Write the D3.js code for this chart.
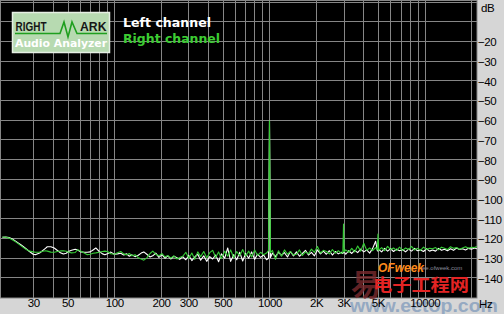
<!DOCTYPE html>
<html>
<head>
<meta charset="utf-8">
<script src="https://cdn.jsdelivr.net/npm/d3@7"></script>
<style>
  body { margin: 0; background: #d6d6d6; }
  svg { display: block; }
</style>
</head>
<body>
<div id="chart"></div>
<script>
// Spectrum bins (Hz)
const freqs = [
  19, 20, 21, 22, 23, 24, 25, 26, 27, 28,
  30, 31, 33, 34, 36, 37, 39, 41, 43, 45,
  47, 49, 51, 53, 56, 58, 61, 64, 67, 70,
  73, 76, 80, 84, 87, 91, 95, 100, 105, 110,
  115, 120, 125, 130, 136, 142, 149, 155, 162, 170,
  177, 185, 194, 203, 212, 221, 231, 242, 253, 264,
  276, 289, 302, 316, 330, 345, 360, 377, 394, 412,
  430, 450, 470, 490, 515, 538, 562, 588, 615, 643,
  672, 702, 734, 767, 802, 838, 876, 916, 957, 985,
  1000, 1015, 1045, 1093, 1143, 1195, 1249, 1306, 1365, 1427,
  1492, 1560, 1630, 1705, 1782, 1863, 1948, 2036, 2129, 2225,
  2326, 2432, 2542, 2658, 2778, 2904, 2970, 3000, 3030, 3100,
  3240, 3390, 3540, 3700, 3870, 4050, 4230, 4420, 4620, 4830,
  4950, 5000, 5050, 5280, 5520, 5770, 6030, 6300, 6590, 6890,
  7200, 7530, 7870, 8230, 8600, 8990, 9400, 9830, 10280, 10750,
  11240, 11750, 12280, 12840, 13420, 14030, 14670, 15340, 16040, 16770,
  17530, 18330, 19160, 20030, 20940, 21700
];

// Left channel level (dB)
const left_db = [
  -119.2, -119.0, -119.3, -120.0, -121.0, -122.0, -123.0, -124.0, -125.0, -126.0,
  -127.8, -128.0, -127.2, -126.4, -124.8, -124.0, -124.0, -124.6, -125.9, -127.0,
  -127.7, -127.3, -126.3, -125.8, -125.3, -125.6, -126.6, -126.8, -126.8, -126.6,
  -125.6, -124.6, -126.4, -127.6, -128.0, -127.4, -126.7, -127.8, -127.6, -127.3,
  -128.2, -127.6, -128.8, -128.1, -129.0, -128.4, -127.2, -126.6, -127.8, -129.2,
  -128.6, -127.2, -129.4, -128.0, -129.8, -128.6, -130.2, -128.8, -129.6, -130.4,
  -129.0, -130.6, -128.4, -131.0, -129.2, -127.8, -130.8, -128.6, -131.4, -129.0,
  -130.2, -128.2, -131.6, -127.6, -129.8, -124.6, -131.4, -128.0, -130.6, -126.8,
  -131.2, -127.4, -129.8, -126.6, -130.4, -127.8, -129.4, -128.2, -130.6, -129.8,
  -60.0, -129.4, -127.2, -129.0, -126.8, -128.4, -127.0, -129.2, -126.4, -128.6,
  -126.6, -128.8, -127.4, -125.8, -128.2, -126.8, -128.6, -125.6, -127.6, -126.2,
  -127.8, -126.0, -128.2, -126.4, -127.6, -126.8, -127.4, -127.0, -126.6, -127.8,
  -126.0, -127.4, -125.8, -127.0, -125.2, -126.6, -125.6, -127.2, -124.8, -121.2,
  -125.8, -126.2, -125.4, -126.6, -124.8, -126.2, -125.0, -126.4, -125.2, -126.0,
  -125.4, -126.6, -125.2, -126.2, -124.8, -126.0, -125.6, -126.4, -125.0, -126.2,
  -125.6, -126.2, -124.8, -125.8, -125.2, -126.0, -125.0, -125.8, -124.6, -125.4,
  -125.0, -125.6, -124.8, -125.2, -124.6, -125.0
];

// Right channel level (dB)
const right_db = [
  -119.0, -119.2, -119.6, -120.4, -121.4, -122.4, -123.4, -124.4, -125.3, -126.0,
  -126.6, -126.8, -126.7, -126.4, -126.0, -126.2, -126.7, -126.8, -126.4, -126.1,
  -126.0, -126.3, -126.8, -127.1, -126.9, -125.5, -126.3, -127.2, -128.0, -127.8,
  -127.3, -127.1, -126.8, -126.4, -126.2, -126.5, -127.5, -127.8, -127.0, -126.4,
  -127.6, -128.1, -127.4, -128.6, -128.0, -129.4, -130.2, -130.8, -129.6, -127.4,
  -126.2, -127.8, -128.6, -127.4, -129.2, -128.4, -129.8, -128.6, -130.2, -129.4,
  -128.8, -126.8, -129.8, -127.2, -130.4, -126.6, -129.0, -126.4, -129.6, -127.0,
  -125.8, -129.4, -126.6, -130.0, -126.2, -128.8, -125.6, -129.6, -126.4, -128.6,
  -125.4, -128.8, -126.2, -129.2, -125.6, -128.4, -126.8, -128.0, -127.2, -126.0,
  -60.0, -127.0, -125.8, -130.4, -126.0, -128.8, -125.6, -127.8, -126.4, -128.2,
  -127.8, -125.6, -128.4, -126.6, -127.6, -125.2, -126.8, -123.8, -127.2, -125.8,
  -126.4, -127.6, -125.4, -127.2, -126.0, -127.4, -126.8, -112.4, -126.6, -125.6,
  -126.8, -124.8, -126.6, -123.6, -126.2, -122.2, -125.8, -124.6, -126.0, -124.4,
  -125.6, -117.5, -125.8, -124.4, -126.0, -123.8, -125.4, -124.6, -125.8, -124.2,
  -125.8, -124.6, -125.4, -123.8, -125.6, -124.8, -125.8, -124.2, -125.4, -124.8,
  -125.0, -124.4, -125.6, -124.2, -124.8, -125.4, -124.0, -124.8, -124.4, -125.2,
  -124.6, -124.0, -124.8, -124.2, -124.4, -123.8
];

// Grid and tick definitions
const grid_freqs = [30, 40, 50, 60, 70, 80, 90, 100, 200, 300, 400, 500, 600, 700, 800, 900,
  1000, 2000, 3000, 4000, 5000, 6000, 7000, 8000, 9000, 10000, 20000];
const grid_db = [0, -10, -20, -30, -40, -50, -60, -70, -80, -90, -100, -110, -120, -130, -140];
const x_tick_values = [30, 50, 100, 200, 300, 500, 1000, 2000, 3000, 5000, 10000];
const x_tick_labels = ['30', '50', '100', '200', '300', '500', '1000', '2K', '3K', '5K', '10000'];
const y_tick_values = [-20, -30, -40, -50, -60, -70, -80, -90, -100, -110, -120, -130, -140];

const series_names = ['Left channel', 'Right channel'];


// Layout / style constants
const C = {
  width: 504,
  height: 314,
  plot: {left: 2, right: 477, top: 2.5, bottom: 298},
  bg: '#d6d6d6',
  grid_color: '#868686',
  left_color: '#ffffff',
  right_color: '#36cc36',
  label_font: '"Liberation Sans", Arial, sans-serif',
};


const svg = d3.select('#chart').append('svg')
  .attr('width', C.width)
  .attr('height', C.height);

svg.append('rect')
  .attr('width', C.width)
  .attr('height', C.height)
  .attr('fill', C.bg);

const X = d3.scaleLog()
  .domain([18.9, 21730])
  .range([C.plot.left, C.plot.right]);

const Y = d3.scaleLinear()
  .domain([0, -150])
  .range([C.plot.top, C.plot.bottom]);

const snap = v => Math.round(v) + 0.5;

// Black plotting area
svg.append('rect')
  .attr('x', 0.5)
  .attr('y', 0.5)
  .attr('width', C.plot.right - 0.5)
  .attr('height', C.plot.bottom - 0.5)
  .attr('fill', '#000')
  .attr('stroke', C.grid_color)
  .attr('stroke-width', 1);

// Grid
const grid = svg.append('g')
  .attr('stroke', C.grid_color)
  .attr('stroke-width', 1)
  .attr('shape-rendering', 'crispEdges');

grid.selectAll('line.v')
  .data(grid_freqs)
  .join('line')
  .attr('class', 'v')
  .attr('x1', d => snap(X(d)))
  .attr('x2', d => snap(X(d)))
  .attr('y1', 1)
  .attr('y2', C.plot.bottom);

grid.selectAll('line.h')
  .data(grid_db)
  .join('line')
  .attr('class', 'h')
  .attr('x1', 1)
  .attr('x2', C.plot.right)
  .attr('y1', d => snap(Y(d)) - 1)
  .attr('y2', d => snap(Y(d)) - 1);

// Spectrum curves (left drawn first, right on top)
const line = d3.line()
  .x(d => X(d.f))
  .y(d => Y(d.db));

const series = [
  {name: series_names[0], color: C.left_color, values: freqs.map((f, i) => ({f, db: left_db[i]}))},
  {name: series_names[1], color: C.right_color, values: freqs.map((f, i) => ({f, db: right_db[i]}))},
];

svg.append('g')
  .selectAll('path')
  .data(series)
  .join('path')
  .attr('d', d => line(d.values))
  .attr('fill', 'none')
  .attr('stroke', d => d.color)
  .attr('stroke-width', 1.1)
  .attr('stroke-linejoin', 'round');

// RightMark logo
function draw_logo(g){
  g.append('rect')
    .attr('x', 12.5).attr('y', 12.5)
    .attr('width', 97).attr('height', 40)
    .attr('fill', '#b7dab1')
    .attr('stroke', '#e6efe4')
    .attr('stroke-width', 1.5);

  g.append('path')
    .attr('d', 'M15,33.5 H60 L64,22 L68,37 L72,22 L77,33.5 H107')
    .attr('fill', 'none')
    .attr('stroke', '#1f9f1f')
    .attr('stroke-width', 1.6)
    .attr('stroke-linejoin', 'miter');

  const word = (txt, x, len) => g.append('text')
    .attr('x', x).attr('y', 31)
    .attr('font-family', C.label_font)
    .attr('font-weight', 'bold')
    .attr('font-size', 12)
    .attr('fill', '#161616')
    .attr('textLength', len)
    .attr('lengthAdjust', 'spacingAndGlyphs')
    .text(txt);
  word('RIGHT', 15.5, 31);
  word('ARK', 80, 26.5);

  g.append('text')
    .attr('x', 15).attr('y', 47)
    .attr('font-family', '"DejaVu Sans", Verdana, sans-serif')
    .attr('font-weight', 'bold')
    .attr('font-size', 10.5)
    .attr('fill', '#ffffff')
    .attr('textLength', 92)
    .attr('lengthAdjust', 'spacingAndGlyphs')
    .text('Audio Analyzer');
}
draw_logo(svg.append('g'));

// Legend
svg.append('g')
  .selectAll('text')
  .data(series)
  .join('text')
  .attr('x', 123)
  .attr('y', (d, i) => 27 + i * 16)
  .attr('font-family', '"DejaVu Sans", Verdana, sans-serif')
  .attr('font-weight', 'bold')
  .attr('font-size', 12.5)
  .attr('fill', d => d.color === C.right_color ? '#3ccc32' : '#ffffff')
  .attr('textLength', (d, i) => i ? 97 : 88)
  .attr('lengthAdjust', 'spacingAndGlyphs')
  .text(d => d.name);

// Watermark overlay
function draw_watermark(g){
  g.append('text')
    .attr('x', 351).attr('y', 295)
    .attr('font-family', '"Noto Sans CJK SC", sans-serif')
    .attr('font-weight', 'bold')
    .attr('font-size', 30)
    .attr('fill', '#7a2a2e')
    .attr('opacity', 0.8)
    .text('易');
  g.append('text')
    .attr('x', 378).attr('y', 272)
    .attr('font-family', C.label_font)
    .attr('font-weight', 'bold')
    .attr('font-style', 'italic')
    .attr('font-size', 12)
    .attr('fill', '#ff8a1c')
    .text('OFweek');
  g.append('text')
    .attr('x', 422).attr('y', 270)
    .attr('font-family', C.label_font)
    .attr('font-size', 6)
    .attr('fill', '#8a8a9a')
    .text('ee.ofweek.com');
  g.append('text')
    .attr('x', 373).attr('y', 291)
    .attr('font-family', '"Noto Sans CJK SC", sans-serif')
    .attr('font-weight', 'bold')
    .attr('font-size', 17)
    .attr('fill', '#e32424')
    .attr('textLength', 96)
    .attr('lengthAdjust', 'spacingAndGlyphs')
    .text('电子工程网');
  g.append('text')
    .attr('x', 350).attr('y', 312)
    .attr('font-family', C.label_font)
    .attr('font-weight', 'bold')
    .attr('font-size', 18)
    .attr('fill', '#8aa2bf')
    .attr('opacity', 0.85)
    .attr('textLength', 148)
    .attr('lengthAdjust', 'spacingAndGlyphs')
    .text('www.eetop.com');
}
draw_watermark(svg.append('g'));

// Axes labels
const label_style = sel => sel
  .attr('font-family', C.label_font)
  .attr('font-size', 11.5)
  .attr('letter-spacing', '-0.4px')
  .attr('fill', '#000');

const y_axis = svg.append('g')
  .attr('transform', `translate(${C.plot.right},0)`)
  .call(d3.axisRight(Y).tickValues(y_tick_values).tickSize(0).tickPadding(1).tickFormat(d3.format('d')));
y_axis.select('.domain').remove();
y_axis.selectAll('text').call(label_style).attr('dy', '0.34em');

const x_axis = svg.append('g')
  .attr('transform', `translate(0,${C.plot.bottom})`)
  .call(d3.axisBottom(X).tickValues(x_tick_values).tickSize(0).tickPadding(1)
    .tickFormat((d, i) => x_tick_labels[i]));
x_axis.select('.domain').remove();
x_axis.selectAll('text').call(label_style);

svg.append('text').attr('x', 481).attr('y', 12).text('dB').call(label_style);
svg.append('text').attr('x', 479).attr('y', 308).text('Hz').call(label_style);
</script>
</body>
</html>
